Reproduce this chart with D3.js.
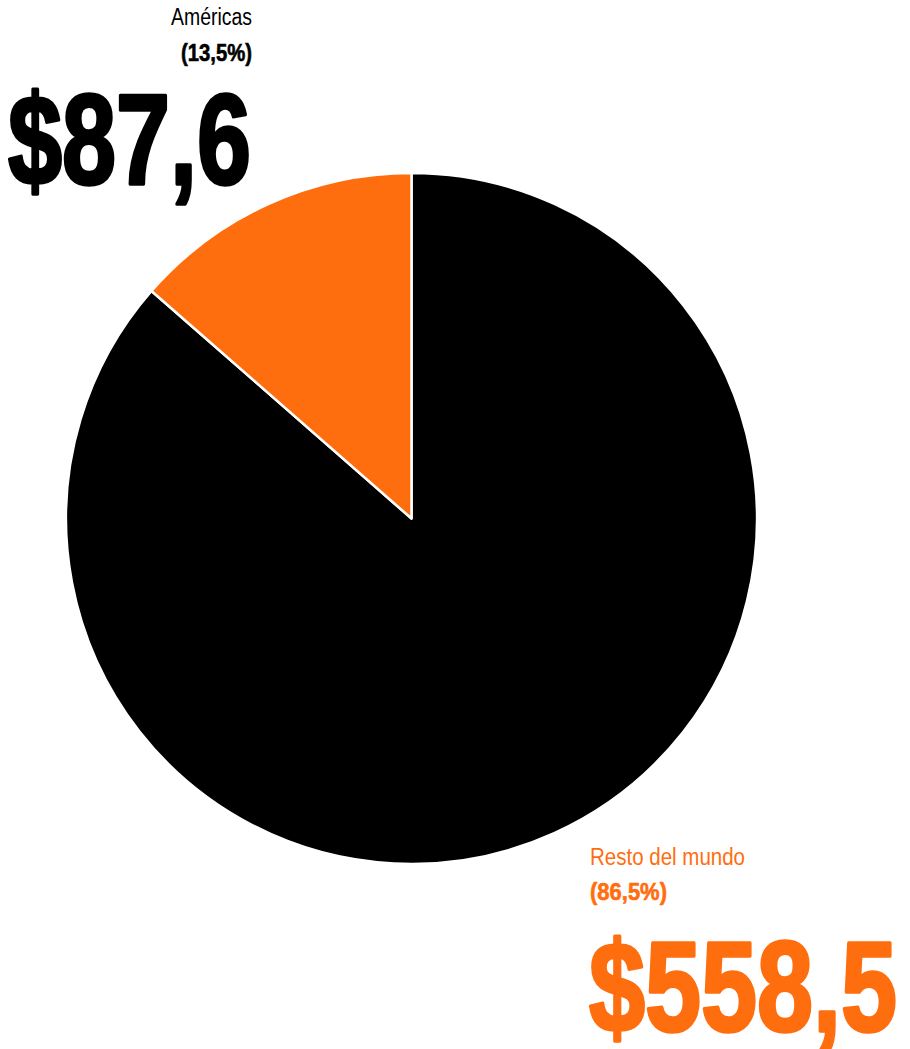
<!DOCTYPE html>
<html>
<head>
<meta charset="utf-8">
<script src="https://cdn.jsdelivr.net/npm/d3@7"></script>
<style>
  html, body { margin: 0; padding: 0; background: #fff; }
  svg { display: block; }
</style>
</head>
<body>
<svg id="chart" width="910" height="1049"></svg>
<script>
// Data
const regions = ["Resto del mundo", "Américas"];
const amounts = [558.5, 87.6];
const shareLabels = ["(86,5%)", "(13,5%)"];
const amountLabels = ["$558,5", "$87,6"];
const sliceColors = ["#000000", "#ff6e0e"];
const textColors = ["#ff6e0e", "#000000"];

const svg = d3.select("#chart");
const cx = 411.5, cy = 518.5, r = 345.5;

const pie = d3.pie().sort(null).value(d => d)(amounts);
const arc = d3.arc().innerRadius(0).outerRadius(r);

svg.append("g")
  .attr("transform", `translate(${cx},${cy})`)
  .selectAll("path")
  .data(pie)
  .join("path")
  .attr("d", arc)
  .attr("fill", (d, i) => sliceColors[i])
  .attr("stroke", "#fff")
  .attr("stroke-width", 2.5)
  .attr("stroke-linejoin", "round");

const font = "'Liberation Sans Narrow', 'Liberation Sans', Arial, sans-serif";

// Label layout (index 1 = Américas, index 0 = Resto del mundo)
const layout = [
  { x: 590, anchor: "start", nameY: 865, nameW: 155, shareY: 900, shareW: 77, amtY: 1031, amtW: 308, amtX: 589 },
  { x: 252, anchor: "end", nameY: 25, nameW: 81, shareY: 61, shareW: 71, amtY: 184, amtW: 243, amtX: 251 }
];

const g = svg.append("g");
regions.forEach((name, i) => {
  const L = layout[i];
  g.append("text")
    .attr("x", L.x).attr("y", L.nameY)
    .attr("text-anchor", L.anchor)
    .attr("font-family", font).attr("font-size", 23).attr("font-weight", 400)
    .attr("fill", textColors[i])
    .attr("textLength", L.nameW).attr("lengthAdjust", "spacingAndGlyphs")
    .text(name);
  g.append("text")
    .attr("x", L.x).attr("y", L.shareY)
    .attr("text-anchor", L.anchor)
    .attr("font-family", font).attr("font-size", 24).attr("font-weight", 700)
    .attr("fill", textColors[i])
    .attr("stroke", textColors[i]).attr("stroke-width", 0.6)
    .attr("textLength", L.shareW).attr("lengthAdjust", "spacingAndGlyphs")
    .text(shareLabels[i]);
  g.append("text")
    .attr("x", L.amtX).attr("y", L.amtY)
    .attr("text-anchor", L.anchor)
    .attr("font-family", font).attr("font-size", 128).attr("font-weight", 700)
    .attr("fill", textColors[i])
    .attr("stroke", textColors[i]).attr("stroke-width", 3.5)
    .attr("stroke-linejoin", "round")
    .attr("textLength", L.amtW).attr("lengthAdjust", "spacingAndGlyphs")
    .text(amountLabels[i]);
});
</script>
</body>
</html>
